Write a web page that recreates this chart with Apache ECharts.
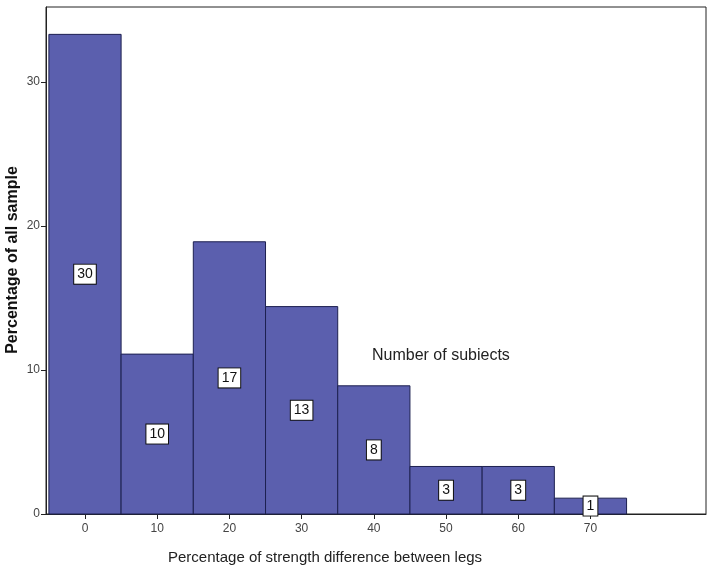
<!DOCTYPE html>
<html>
<head>
<meta charset="utf-8">
<script src="https://cdn.jsdelivr.net/npm/echarts@6/dist/echarts.min.js"></script>
<style>
html,body{margin:0;padding:0;background:#fff;}
#c{width:714px;height:574px;}
</style>
</head>
<body>
<div id="c"></div>
<script>
// Data
const binCenters = [0, 10, 20, 30, 40, 50, 60, 70];
const binWidth = 10;
const percents = [33.3, 11.1, 18.9, 14.4, 8.9, 3.3, 3.3, 1.1];
const counts = [30, 10, 17, 13, 8, 3, 3, 1];
const xTicks = [0, 10, 20, 30, 40, 50, 60, 70];
const yTicks = [0, 10, 20, 30];
const xTitle = 'Percentage of strength difference between legs';
const yTitle = 'Percentage of all sample';
const noteText = 'Number of subiects';

const data = binCenters.map((c, i) => [c, percents[i], counts[i]]);
const font = '"Liberation Sans", Arial, sans-serif';

const chart = echarts.init(document.getElementById('c'), null, {renderer: 'canvas'});
chart.setOption({
  animation: false,
  backgroundColor: '#fff',
  grid: {left: 46, top: 7, right: 8, bottom: 60, containLabel: false, outerBoundsMode: 'none',
         show: true, borderColor: '#222', borderWidth: 1, backgroundColor: 'transparent'},
  xAxis: {
    type: 'value', min: -5.4, max: 86,
    axisLine: {show: true, onZero: false, lineStyle: {color: '#222', width: 1}},
    axisTick: {show: true, length: 5, lineStyle: {color: '#222'}, customValues: xTicks},
    axisLabel: {show: true, margin: 9, fontSize: 12, color: '#444', fontFamily: font, customValues: xTicks},
    splitLine: {show: false}
  },
  yAxis: {
    type: 'value', min: 0, max: 35.2,
    axisLine: {show: true, onZero: false, lineStyle: {color: '#222', width: 1}},
    axisTick: {show: true, length: 5, lineStyle: {color: '#222'}, customValues: yTicks},
    axisLabel: {show: true, margin: 6, fontSize: 12, color: '#444', fontFamily: font, customValues: yTicks},
    splitLine: {show: false}
  },
  series: [{
    type: 'custom',
    data: data,
    encode: {x: 0, y: 1},
    renderItem: function (params, api) {
      const c = api.value(0), p = api.value(1), n = api.value(2);
      const tl = api.coord([c - binWidth / 2, p]);
      const br = api.coord([c + binWidth / 2, 0]);
      const mid = api.coord([c, p / 2]);
      return {
        type: 'group',
        children: [
          {
            type: 'rect',
            shape: {x: tl[0], y: tl[1], width: br[0] - tl[0], height: br[1] - tl[1]},
            style: {fill: '#5b5fae', stroke: '#1d2050', lineWidth: 1}
          },
          {
            type: 'text',
            z2: 10,
            style: {
              text: String(n), x: mid[0], y: mid[1], align: 'center', verticalAlign: 'middle',
              fontSize: 14, fontFamily: font, fill: '#111',
              backgroundColor: '#fff', borderColor: '#111', borderWidth: 1, padding: [3, 3, 2, 3]
            }
          }
        ]
      };
    }
  }],
  graphic: [
    {type: 'text', x: 13, y: 260, rotation: Math.PI / 2,
     style: {text: yTitle, fontSize: 16, fontWeight: 'bold', fontFamily: font, fill: '#111', align: 'center', verticalAlign: 'middle'}},
    {type: 'text', left: 372, top: 348, style: {text: noteText, fontSize: 16, fontFamily: font, fill: '#222'}},
    {type: 'text', left: 168, top: 550, style: {text: xTitle, fontSize: 15, fontFamily: font, fill: '#222'}}
  ]
});
</script>
</body>
</html>
